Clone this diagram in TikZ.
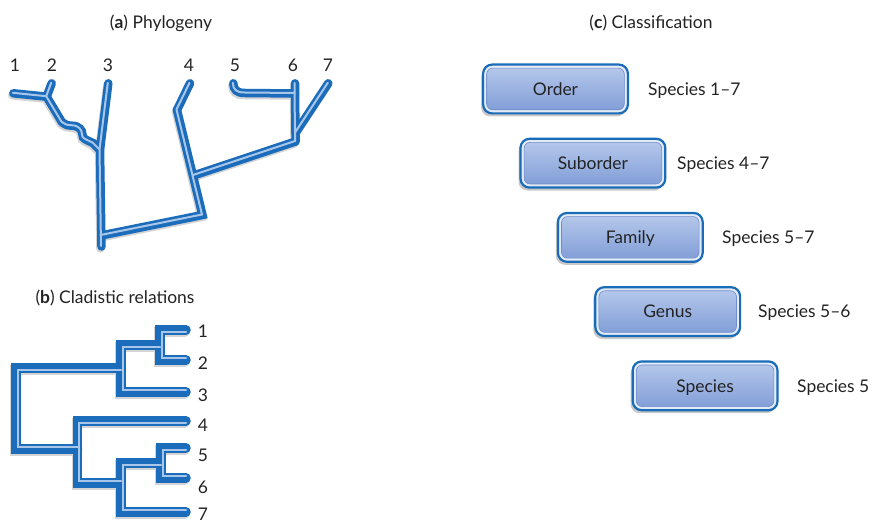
\documentclass[tikz,border=0pt]{standalone}
\usepackage{fontspec}
\setmainfont{Lato}
\usetikzlibrary{shadows,calc}

\definecolor{lineblue}{RGB}{28,108,188}
\definecolor{stripeblue}{RGB}{168,198,234}
\definecolor{shadowgray}{RGB}{212,212,212}
\definecolor{boxshadow}{RGB}{200,200,200}
\definecolor{boxedge}{RGB}{26,108,184}
\definecolor{boxring}{RGB}{226,234,246}
\definecolor{boxtop}{RGB}{184,202,236}
\definecolor{boxbottom}{RGB}{126,155,214}
\definecolor{boxinner}{RGB}{112,140,200}
\definecolor{textgray}{RGB}{35,35,35}

\tikzset{
  shadowline/.style={draw=shadowgray, line width=8.5bp, line cap=round},
  blueline/.style={draw=lineblue, line width=8.5bp, line cap=round},
  stripeline/.style={draw=stripeblue, line width=2bp, line cap=round},
  cshadow/.style={draw=shadowgray, line width=9.5bp, line cap=round},
  cblue/.style={draw=lineblue, line width=9.5bp, line cap=round},
  cstripe/.style={draw=stripeblue, line width=2.2bp, line cap=round},
  lbl/.style={font=\fontsize{17.5}{20}\selectfont, text=textgray, inner sep=0pt, anchor=base},
  sidelbl/.style={lbl, anchor=base west},
  rankbox/.style={draw=boxedge, line width=2.2bp, fill=boxring, rounded corners=9bp,
    minimum width=144.8bp, minimum height=48.8bp, inner sep=0pt,
    text height=12.5bp, text depth=0bp,
    font=\fontsize{17.5}{20}\selectfont, text=textgray,
    drop shadow={shadow xshift=-2bp, shadow yshift=-3bp, fill=boxshadow, opacity=1},
    path picture={\shade[top color=boxtop, bottom color=boxbottom, draw=boxinner,
      line width=0.6bp, rounded corners=6bp]
      ([shift={(3.6bp,3.6bp)}]path picture bounding box.south west) rectangle
      ([shift={(-3.6bp,-3.6bp)}]path picture bounding box.north east);}},
}

% branches of the phylogeny
\newcommand\phylotree[1]{%
  \draw[#1] (t1) -- (j12);
  \draw[#1] (t2) -- (j12);
  \draw[#1] (j12) -- plot[smooth,tension=0.6] coordinates
    {(61.7,121.7) (66.7,125) (76.7,126.5) (81.7,131) (83,137.3) (87.3,140.3) (93,143)} -- (j123);
  \draw[#1] (t3) -- (j123) -- (root);
  \draw[#1] (jbot) -- (kb) -- (k4) -- (t4);
  \draw[#1] (j4) -- (j567);
  \draw[#1] (t6) -- (j56) -- (j67) -- (j567);
  \draw[#1] (t5) .. controls (233.5,90) and (237,93) .. (245,93) -- (j56);
  \draw[#1] (t7) -- (j67);
}

% one bracket of the cladogram: style, inward offset, upper end, column, lower end
\newcommand\bracket[5]{%
  \draw[#1] ($(#3)+(0,#2)$) -- ($(#4 |- #3)+(#2,#2)$)
    -- ($(#4 |- #5)+(#2,-#2)$) -- ($(#5)+(0,-#2)$);
}
\newcommand\cladotree[2]{%
  \bracket{#1}{#2}{c1}{n12}{c2}
  \bracket{#1}{#2}{n12}{nA}{c3}
  \bracket{#1}{#2}{rA}{rt}{nB}
  \bracket{#1}{#2}{c4}{nB}{nC}
  \bracket{#1}{#2}{c5}{n56}{c6}
  \bracket{#1}{#2}{n56}{nC}{c7}
}

\begin{document}
\begin{tikzpicture}[x=1bp,y=-1bp]
\useasboundingbox (0,0) rectangle (873,521);

% ---------- (a) phylogeny ----------
\node[lbl] (ta) at (161,29) {(\textbf{a}) Phylogeny};

\coordinate (t1) at (13.3,93.3);
\coordinate (t2) at (51.7,83.3);
\coordinate (j12) at (46.7,96.7);
\coordinate (t3) at (108.3,83.3);
\coordinate (j123) at (100,150);
\coordinate (root) at (101.5,246.5);
\coordinate (jbot) at (101,235.5);
\coordinate (kb) at (202.5,215);
\coordinate (k4) at (177,110);
\coordinate (t4) at (190,83.3);
\coordinate (j4) at (193.5,175.5);
\coordinate (j567) at (295.5,141.5);
\coordinate (t6) at (295,83.3);
\coordinate (j56) at (295,93.5);
\coordinate (j67) at (295.5,133);
\coordinate (t5) at (233.3,83.3);
\coordinate (t7) at (328.3,83.3);

\begin{scope}[transform canvas={shift={(-1bp,-2bp)}}]
  \phylotree{shadowline}
\end{scope}
\phylotree{blueline}
\begin{scope}[transform canvas={shift={(-0.5bp,0.5bp)}}]
  \phylotree{stripeline}
\end{scope}

\node[lbl] (pa1) at (15,72) {1};
\node[lbl] (pa2) at (52,72) {2};
\node[lbl] (pa3) at (108,72) {3};
\node[lbl] (pa4) at (189,72) {4};
\node[lbl] (pa5) at (235,72) {5};
\node[lbl] (pa6) at (293,72) {6};
\node[lbl] (pa7) at (328,72) {7};

% ---------- (b) cladistic relations ----------
\node[lbl] (tb) at (115,304) {(\textbf{b}) Cladistic relations};

\coordinate (c1) at (186,330);
\coordinate (c2) at (186,360);
\coordinate (c3) at (186,392);
\coordinate (c4) at (186,421);
\coordinate (c5) at (186,448);
\coordinate (c6) at (186,478);
\coordinate (c7) at (186,512);
\coordinate (n12) at (160,345);
\coordinate (nA) at (121,345);
\coordinate (rA) at (121,368);
\coordinate (rt) at (16,368);
\coordinate (nB) at (77.5,449);
\coordinate (nC) at (121,483);
\coordinate (n56) at (161,463);

\begin{scope}[transform canvas={shift={(-1.2bp,-2bp)}}]
  \cladotree{cshadow}{0}
\end{scope}
\cladotree{cblue}{0}
\cladotree{cstripe}{1.7}

\node[lbl] (pb1) at (203,338) {1};
\node[lbl] (pb2) at (203,369) {2};
\node[lbl] (pb3) at (203,401) {3};
\node[lbl] (pb4) at (203,431) {4};
\node[lbl] (pb5) at (203,461.5) {5};
\node[lbl] (pb6) at (203,493) {6};
\node[lbl] (pb7) at (203,520.5) {7};

% ---------- (c) classification ----------
\node[lbl] (tc) at (651,29) {(\textbf{c}) Classification};

\node[rankbox] (order)    at (555.5,89)    {Order};
\node[rankbox] (suborder) at (592.9,163.2) {Suborder};
\node[rankbox] (family)   at (630.3,237.4) {Family};
\node[rankbox] (genus)    at (667.7,311.6) {Genus};
\node[rankbox] (species)  at (705.1,385.8) {Species};

\node[sidelbl] (lorder)    at (648,95.3)  {Species 1–7};
\node[sidelbl] (lsuborder) at (677,169.5) {Species 4–7};
\node[sidelbl] (lfamily)   at (722,243.7) {Species 5–7};
\node[sidelbl] (lgenus)    at (758,317.9) {Species 5–6};
\node[sidelbl] (lspecies)  at (797,392.1) {Species 5};
\end{tikzpicture}
\end{document}
